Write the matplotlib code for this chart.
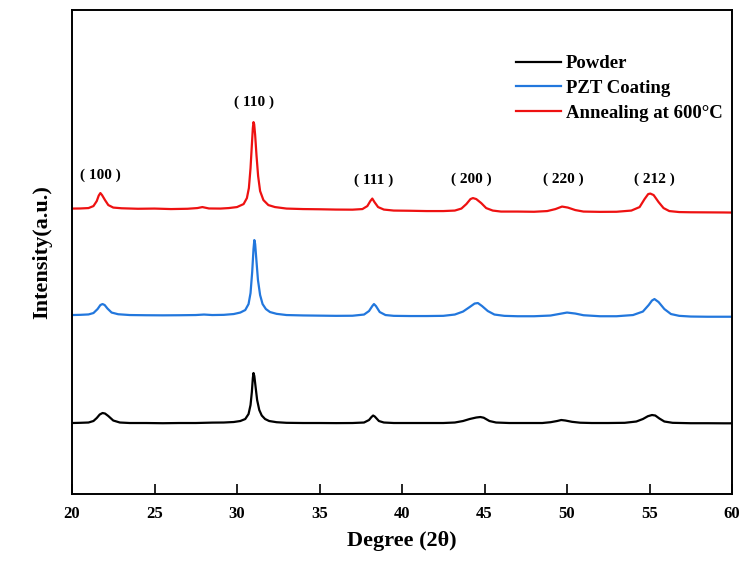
import matplotlib
matplotlib.use("Agg")
import matplotlib.pyplot as plt

# ---------------- data (2theta in degrees, intensity in a.u.) ----------------
powder_2theta = [20.0, 20.5, 21.0, 21.3, 21.5, 21.68, 21.85, 22.0, 22.2, 22.5, 22.9, 23.5,
                 24.5, 25.5, 26.5, 27.5, 28.5, 29.2, 29.8, 30.2, 30.5, 30.7, 30.82, 30.9,
                 30.96, 31.0, 31.05, 31.12, 31.22, 31.35, 31.5, 31.7, 31.95, 32.4, 33.0,
                 34.0, 35.0, 36.0, 37.0, 37.7, 38.0, 38.15, 38.25, 38.35, 38.6, 38.9,
                 39.5, 40.5, 41.5, 42.5, 43.2, 43.7, 44.1, 44.5, 44.75, 44.95, 45.3,
                 45.7, 46.5, 47.5, 48.5, 49.0, 49.4, 49.65, 49.9, 50.3, 50.8, 51.5,
                 52.5, 53.5, 54.2, 54.6, 54.9, 55.15, 55.35, 55.6, 55.9, 56.4, 57.5,
                 58.5, 59.5, 60.0]
powder_int = [1.0, 1.2, 1.5, 3.0, 6.0, 9.5, 11.0, 10.5, 8.0, 3.5, 1.5, 1.0,
              1.0, 0.8, 1.0, 1.0, 1.4, 1.5, 2.0, 3.0, 5.0, 10.0, 19.0, 32.0,
              46.0, 51.0, 48.0, 38.0, 24.0, 14.0, 8.5, 5.0, 3.0, 1.8, 1.2,
              1.0, 1.0, 0.9, 1.0, 1.5, 4.0, 7.0, 8.5, 7.5, 3.0, 1.5,
              1.0, 1.0, 1.0, 1.0, 1.5, 3.0, 5.0, 6.5, 7.0, 6.3, 3.0,
              1.5, 1.0, 1.0, 1.0, 1.8, 3.0, 4.0, 3.5, 2.2, 1.3, 1.0,
              1.0, 1.2, 2.5, 5.0, 7.8, 9.0, 8.5, 5.5, 2.5, 1.2, 0.8,
              0.8, 0.7, 0.7]

coating_2theta = [20.0, 20.5, 21.0, 21.3, 21.55, 21.72, 21.85, 21.98, 22.15, 22.4, 22.8, 23.5,
                  24.5, 25.5, 26.5, 27.5, 28.0, 28.5, 29.2, 29.8, 30.2, 30.5, 30.7, 30.82,
                  30.92, 31.0, 31.05, 31.1, 31.17, 31.27, 31.4, 31.55, 31.75, 32.0, 32.4,
                  33.0, 34.0, 35.0, 36.0, 37.0, 37.7, 38.0, 38.2, 38.3, 38.42, 38.65,
                  39.0, 39.5, 40.5, 41.5, 42.5, 43.2, 43.7, 44.1, 44.4, 44.6, 44.85,
                  45.2, 45.6, 46.2, 47.0, 48.0, 49.0, 49.5, 50.0, 50.5, 51.0, 52.0,
                  53.0, 54.0, 54.6, 54.95, 55.15, 55.3, 55.55, 55.9, 56.3, 56.8, 57.5,
                  58.5, 59.5, 60.0]
coating_int = [2.0, 2.2, 2.6, 4.0, 8.0, 12.0, 13.0, 12.0, 8.5, 4.5, 2.8, 2.0,
               1.8, 1.7, 1.8, 2.0, 2.5, 2.0, 2.2, 3.0, 4.5, 7.0, 13.0, 24.0,
               45.0, 68.0, 77.0, 73.0, 58.0, 37.0, 22.0, 13.0, 8.0, 5.0, 3.2,
               2.0, 1.6, 1.4, 1.2, 1.3, 2.5, 6.0, 11.0, 13.0, 11.0, 5.0,
               2.0, 1.2, 1.0, 1.0, 1.2, 2.5, 5.5, 10.0, 13.5, 14.0, 11.0,
               6.0, 2.5, 1.2, 0.8, 0.8, 1.5, 3.0, 4.5, 3.5, 1.8, 0.8,
               0.8, 2.0, 5.5, 12.0, 16.5, 18.0, 15.0, 8.0, 3.0, 1.2, 0.5,
               0.3, 0.3, 0.3]

anneal_2theta = [20.0, 20.5, 21.0, 21.3, 21.5, 21.62, 21.72, 21.82, 22.0, 22.2, 22.5, 23.0,
                 24.0, 25.0, 26.0, 27.0, 27.6, 27.9, 28.3, 29.0, 29.5, 30.0, 30.4, 30.6,
                 30.72, 30.82, 30.9, 30.96, 31.0, 31.04, 31.1, 31.18, 31.28, 31.4, 31.6,
                 31.9, 32.3, 33.0, 34.0, 35.0, 36.0, 37.0, 37.6, 37.9, 38.08, 38.2,
                 38.33, 38.55, 38.9, 39.5, 40.5, 41.5, 42.5, 43.2, 43.6, 43.9, 44.15,
                 44.3, 44.5, 44.8, 45.1, 45.5, 46.0, 47.0, 48.0, 48.8, 49.3, 49.7,
                 50.05, 50.5, 51.0, 52.0, 53.0, 53.9, 54.4, 54.7, 54.92, 55.05, 55.25,
                 55.55, 55.85, 56.2, 56.8, 57.5, 58.5, 59.5, 60.0]
anneal_int = [4.5, 4.6, 5.0, 7.0, 12.0, 17.5, 20.0, 18.0, 13.0, 8.0, 5.5, 4.8,
              4.3, 4.5, 4.0, 4.3, 5.0, 6.0, 4.6, 4.5, 5.0, 6.0, 9.0, 15.0,
              25.0, 45.0, 68.0, 85.0, 91.0, 89.0, 78.0, 58.0, 37.0, 22.0, 13.0,
              8.0, 6.0, 4.5, 4.0, 3.8, 3.5, 3.4, 4.0, 7.0, 12.0, 14.5,
              11.0, 6.0, 3.5, 2.5, 2.3, 2.0, 2.0, 2.5, 4.5, 9.0, 14.0,
              15.0, 14.0, 10.0, 5.0, 2.5, 1.5, 1.5, 1.3, 2.0, 4.0, 6.5,
              5.5, 3.0, 1.5, 1.2, 1.3, 2.5, 6.0, 14.0, 19.0, 19.5, 18.0,
              11.0, 5.0, 2.0, 1.0, 0.8, 0.7, 0.6, 0.5]

series_labels = ["Powder", "PZT Coating", "Annealing at 600\u00b0C"]
peak_labels = ["( 100 )", "( 110 )", "( 111 )", "( 200 )", "( 220 )", "( 212 )"]
peak_label_2theta = [21.7, 31.0, 38.3, 44.2, 49.75, 55.3]
x_ticks = [20, 25, 30, 35, 40, 45, 50, 55, 60]

# ---------------- style ----------------
serif = ["Liberation Serif", "Noto Sans CJK SC", "DejaVu Sans"]
plt.rcParams["font.family"] = serif
plt.rcParams["font.weight"] = "bold"

colors = ["#000000", "#2277dd", "#ee1111"]
offsets = [70, 177, 281]

fig = plt.figure(figsize=(7.40, 5.62), dpi=100)
ax = fig.add_axes([0.0973, 0.121, 0.8919, 0.861])

series = [(powder_2theta, powder_int), (coating_2theta, coating_int),
          (anneal_2theta, anneal_int)]
for (xs, ys), off, c, lab in zip(series, offsets, colors, series_labels):
    ax.plot(xs, [v + off for v in ys], color=c, lw=1.6, label=lab,
            solid_joinstyle="round")

ax.set_xlim(20, 60)
ax.set_ylim(0, 484)
ax.set_xticks(x_ticks)
ax.set_yticks([])
ax.tick_params(axis="x", direction="in", length=7, width=1.2, labelsize=12, pad=9)
for lab in ax.get_xticklabels():
    lab.set_fontweight("bold")
for sp in ax.spines.values():
    sp.set_linewidth(1.4)

ax.set_xlabel("Degree (2\u03b8)", fontsize=16, fontweight="bold", labelpad=6)
ax.set_ylabel("Intensity(a.u.)", fontsize=16, fontweight="bold", labelpad=14)

label_y = [319, 392, 314, 315, 315, 315]
for t, xp, yp in zip(peak_labels, peak_label_2theta, label_y):
    ax.text(xp, yp, t, ha="center", va="center", fontsize=11,
            fontweight="bold", family=serif)

leg = ax.legend(loc="upper right", bbox_to_anchor=(1.0, 0.926), frameon=False,
                fontsize=13.5, handlelength=2.4, handletextpad=0.25,
                labelspacing=0.4, borderaxespad=0.1)
for t in leg.get_texts():
    t.set_fontweight("bold")

fig.savefig("out.png", dpi=100)
